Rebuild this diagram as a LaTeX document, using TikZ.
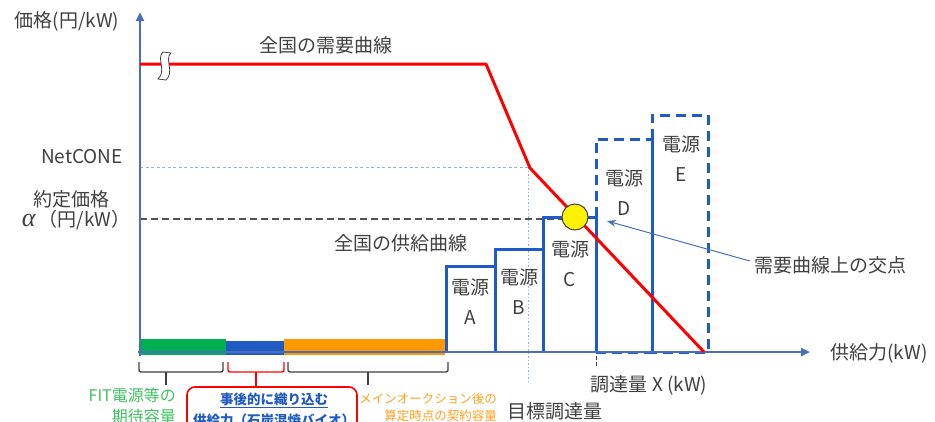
\documentclass[tikz,border=0pt]{standalone}
\usepackage{fontspec}
\setmainfont{Noto Sans CJK JP}
\newfontfamily\grkfont{Liberation Serif}
\usetikzlibrary{arrows.meta}
\definecolor{txt}{HTML}{404040}
\definecolor{axisblue}{HTML}{4A6EBE}
\definecolor{boxblue}{HTML}{1F5BC6}
\definecolor{ltblue}{HTML}{8DB3E2}
\definecolor{fitgreen}{HTML}{00B050}
\definecolor{barblue}{HTML}{1F5BC0}
\definecolor{barorange}{HTML}{FF9900}
\definecolor{lblgreen}{HTML}{3FC060}
\definecolor{lblorange}{HTML}{FFA020}
\begin{document}
\begin{tikzpicture}[x=1pt,y=-1pt,
  lbl/.style={font=\fontsize{19}{22}\selectfont, text=txt, inner sep=0pt},
  boxline/.style={draw=boxblue, line width=3pt},
  dashline/.style={draw=boxblue, line width=3pt, dash pattern=on 10pt off 6pt},
  axisline/.style={draw=axisblue, line width=2.6pt, -{Triangle[length=9pt,width=8pt]}},
  brk/.style={draw=txt, line width=1.4pt, rounded corners=2pt}]
\useasboundingbox (0,0) rectangle (935,421);
% guide lines
\draw[ltblue, line width=1pt, dash pattern=on 3pt off 2.5pt] (140,167) -- (530,167);
\draw[ltblue, line width=1pt, dash pattern=on 1.5pt off 2pt] (528,167) -- (528,384);
\draw[txt!90, line width=1.2pt, dash pattern=on 7pt off 4pt] (140,219) -- (562,219);
% bars
\fill[fitgreen] (139,339) rectangle (226,355);
\fill[barblue] (226,341) rectangle (284,355);
\fill[barorange] (284,339) rectangle (445,355);
% supply boxes
\draw[boxline] (446,352) -- (446,266) -- (495,266) -- (495,352);
\draw[boxline] (495,352) -- (495,249) -- (543,249) -- (543,352);
\draw[boxline] (543,352) -- (543,217) -- (596,217) -- (596,352);
\draw[dashline] (596,217) -- (596,139) -- (652,139);
\draw[dashline] (596,352) -- (652,352);
\draw[boxline] (652,139) -- (652,352);
\draw[dashline] (652,139) -- (652,115) -- (708,115) -- (708,352) -- (652,352);
% axes
\draw[axisline] (140,356) -- (140,12);
\draw[axisline] (138,352) -- (810,352);
% x tick
\draw[txt, line width=1pt, dash pattern=on 4pt off 2pt] (596,356) -- (596,367);
% demand curve
\draw[red, line width=3pt, line join=round] (140,64) -- (486,64) -- (530,168) -- (704,352);
% break symbol
\draw[txt, fill=white, line width=0.8pt]
  (163,52) .. controls (156,58) and (167,71) .. (158,79) -- (166,80)
  .. controls (175,72) and (164,59) .. (171,53) -- cycle;
% intersection point
\node[circle, fill=yellow, draw=txt, line width=1pt, minimum size=26pt, inner sep=0pt] (pt) at (575,217) {};
% axis labels
\node[lbl] (yl) at (67,21) {価格(円/kW)};
\node[lbl] (xl) at (879,353) {供給力(kW)};
\node[lbl] (net) at (82,157) {NetCONE};
\node[lbl] (yak) at (72,199) {約定価格};
\node[lbl] (alp) at (76,220) {{\grkfont\itshape\fontsize{26}{26}\selectfont α}\,（円/kW）};
\node[lbl] (dem) at (326,45) {全国の需要曲線};
\node[lbl] (sup) at (401,243) {全国の供給曲線};
\node[lbl] (crs) at (830,265) {需要曲線上の交点};
\node[lbl] (xq) at (649,385) {調達量 X (kW)};
\node[lbl] (tgt) at (555,411) {目標調達量};
% box labels
\node[lbl, align=center, font=\fontsize{19}{30}\selectfont] (A) at (470,302) {電源\\A};
\node[lbl, align=center, font=\fontsize{19}{30}\selectfont] (B) at (519,292) {電源\\B};
\node[lbl, align=center, font=\fontsize{19}{30}\selectfont] (C) at (570,264) {電源\\C};
\node[lbl, align=center, font=\fontsize{19}{30}\selectfont] (D) at (624,193) {電源\\D};
\node[lbl, align=center, font=\fontsize{19}{30}\selectfont] (E) at (681,159) {電源\\E};
% arrow to intersection
\draw[axisblue, line width=1pt, -{Stealth[length=9pt,width=7pt]}] (crs.west) ++(-4,-4) -- (607,221);
% brackets
\draw[brk] (139,362) -- (139,372) -- (223,372) -- (223,362);
\draw[txt, line width=1.4pt] (166,372) -- (166,385);
\draw[brk, draw=red] (228,362) -- (228,372) -- (284,372) -- (284,362);
\coordinate (rt) at (256,372);
\draw[red, line width=1.3pt] (rt) -- (256,387);
\draw[brk] (288,362) -- (288,372) -- (448,372) -- (448,362);
\draw[txt, line width=1.4pt] (368,372) -- (368,385);
% bottom captions
\node[font=\fontsize{16}{21}\selectfont, text=lblgreen, align=right, inner sep=0pt, anchor=north east] (fit) at (176,388) {FIT電源等の\\期待容量};
\draw[red, line width=1.6pt, rounded corners=8pt] (187,440) -- (187,387) -- (357,387) -- (357,440);
\node[font=\fontsize{13.5}{21}\selectfont\bfseries, text=barblue, align=center, inner sep=0pt, anchor=north] (bio) at (274,393) {\underline{事後的に織り込む}\\供給力（石炭混焼バイオ）};
\node[font=\fontsize{12.5}{17}\selectfont, text=lblorange, align=right, inner sep=0pt, anchor=north east] (mo) at (497,393) {メインオークション後の\\算定時点の契約容量};
\end{tikzpicture}
\end{document}
